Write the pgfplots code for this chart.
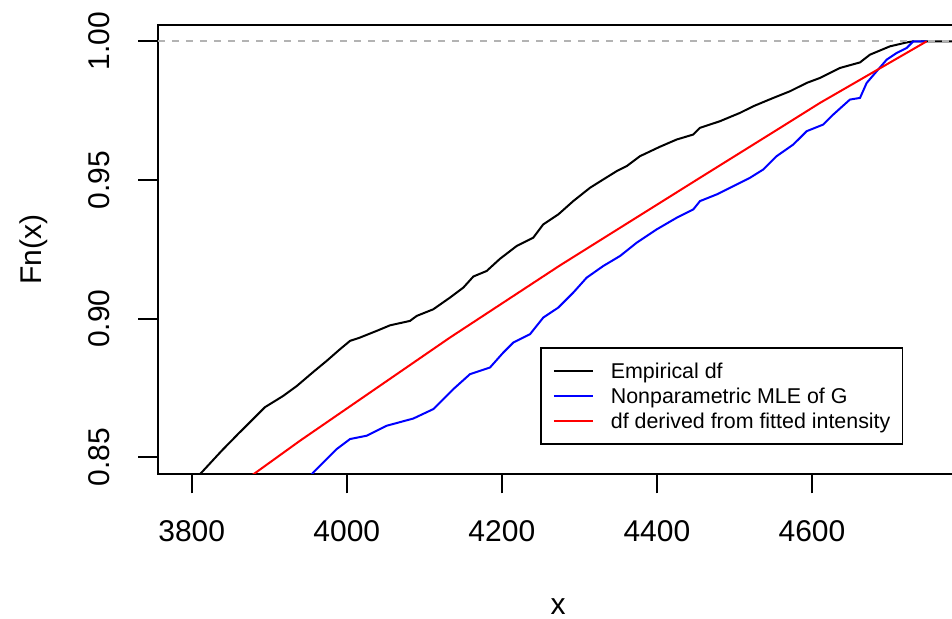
\documentclass[border=0pt]{standalone}
\usepackage{fontspec}
\setmainfont{Liberation Sans}
\usepackage{pgfplots}
\pgfplotsset{compat=1.18}
\definecolor{gray70}{RGB}{179,179,179}
\begin{document}
\begin{tikzpicture}
\useasboundingbox (-79pt,-72.5pt) rectangle (397pt,237pt);
\begin{axis}[
  at={(0,0)}, anchor=south west,
  scale only axis, width=400pt, height=224.65pt,
  xmin=3756.5, xmax=4788.3, ymin=0.844, ymax=1.006,
  xtick={3800,4000,4200,4400,4600},
  ytick={0.85,0.90,0.95,1.00},
  yticklabel={\pgfmathprintnumber[fixed,fixed zerofill,precision=2]{\tick}},
  /pgf/number format/1000 sep={},
  /pgf/number format/assume math mode=true,
  xtick pos=bottom, ytick pos=left,
  tick align=outside, major tick length=9.75pt,
  tick style={line width=1pt, black},
  axis line style={line width=1pt},
  tick label style={font=\fontsize{15}{18}\selectfont},
  xticklabel style={anchor=base, yshift=-24.1pt},
  yticklabel style={xshift=-14.25pt, rotate=90, anchor=base},
  every axis x label/.style={at={(axis description cs:0.5,0)}, yshift=-70.5pt, anchor=base, font=\fontsize{15}{18}\selectfont},
  every axis y label/.style={at={(axis description cs:0,0.5)}, xshift=-58.15pt, rotate=90, anchor=base, font=\fontsize{15}{18}\selectfont},
  xlabel={x}, ylabel={Fn(x)},
  legend style={at={(axis description cs:0.4775,0.2833)}, anchor=north west,
    draw=black, line width=0.9pt, inner xsep=6pt, inner ysep=5.3pt,
    font=\fontsize{10.7}{12.8}\selectfont,
    nodes={inner sep=0pt, text height=10pt, text depth=2.5pt},
    column sep=8.5pt},
  legend cell align=left,
  legend image code/.code={\draw[#1] (0pt,0pt) -- (19.5pt,0pt);},
  clip=true,
]
\addplot[black, line width=1pt] coordinates {
(3800,0.8407) (3812.9,0.8446) (3838.7,0.8524) (3859.7,0.8584) (3875.2,0.8627)
(3894.5,0.8681) (3917.7,0.8721) (3935.4,0.8757) (3956.8,0.8808) (3974.1,0.8848)
(3991.3,0.8890) (4004.2,0.8920) (4017.1,0.8932) (4038.6,0.8956) (4055.7,0.8976)
(4081.5,0.8992) (4090.2,0.9010) (4111.6,0.9034) (4133.1,0.9076) (4150.3,0.9112)
(4163.2,0.9152) (4180.4,0.9172) (4197.6,0.9216) (4219.1,0.9262) (4240.5,0.9292)
(4253.4,0.9340) (4272.8,0.9376) (4292.1,0.9424) (4313.7,0.9472) (4330.8,0.9502)
(4348.1,0.9532) (4361.0,0.9550) (4378.2,0.9586) (4403.9,0.9620) (4425.5,0.9646)
(4446.9,0.9664) (4455.5,0.9688) (4481.3,0.9712) (4507.1,0.9742) (4524.3,0.9766)
(4550.1,0.9796) (4571.6,0.9820) (4593.1,0.9850) (4610.3,0.9868) (4636.1,0.9904)
(4661.9,0.9924) (4674.8,0.9952) (4700.6,0.9982) (4722.1,0.9996) (4730.6,1.0)
(4800,1.0)};
\addlegendentry{Empirical df}
\addplot[gray70, line width=1pt, dash pattern=on 3.5pt off 3.5pt, forget plot] coordinates {(3756.5,1) (4800,1)};
\addplot[blue, line width=1pt] coordinates {
(3940,0.8390) (3956.0,0.8443) (3974.1,0.8494) (3987.0,0.8530) (4004.2,0.8566)
(4025.7,0.8578) (4051.5,0.8614) (4085.8,0.8640) (4111.6,0.8674) (4137.4,0.8746)
(4158.9,0.8800) (4184.7,0.8824) (4201.9,0.8878) (4214.8,0.8914) (4236.3,0.8944)
(4253.4,0.9004) (4272.8,0.9040) (4292.1,0.9094) (4309.4,0.9148) (4330.8,0.9190)
(4352.4,0.9226) (4373.9,0.9274) (4399.7,0.9322) (4425.5,0.9364) (4446.9,0.9394)
(4455.5,0.9424) (4477.1,0.9448) (4498.5,0.9478) (4520.0,0.9508) (4537.2,0.9538)
(4554.4,0.9586) (4575.9,0.9628) (4593.1,0.9676) (4614.5,0.9700) (4627.4,0.9736)
(4648.9,0.9790) (4661.9,0.9796) (4670.5,0.9850) (4683.4,0.9892) (4696.3,0.9934)
(4709.2,0.9958) (4722.1,0.9976) (4730.6,1.0) (4747.9,1.0)};
\addlegendentry{Nonparametric MLE of G}
\addplot[red, line width=1pt] coordinates {
(3850,0.8382) (3881.6,0.8443) (3939.7,0.8560) (4133.1,0.8932) (4274.9,0.9192)
(4455.5,0.9508) (4558.9,0.9688) (4610.3,0.9778) (4747.9,1.0)};
\addlegendentry{df derived from fitted intensity}
\end{axis}
\end{tikzpicture}
\end{document}
